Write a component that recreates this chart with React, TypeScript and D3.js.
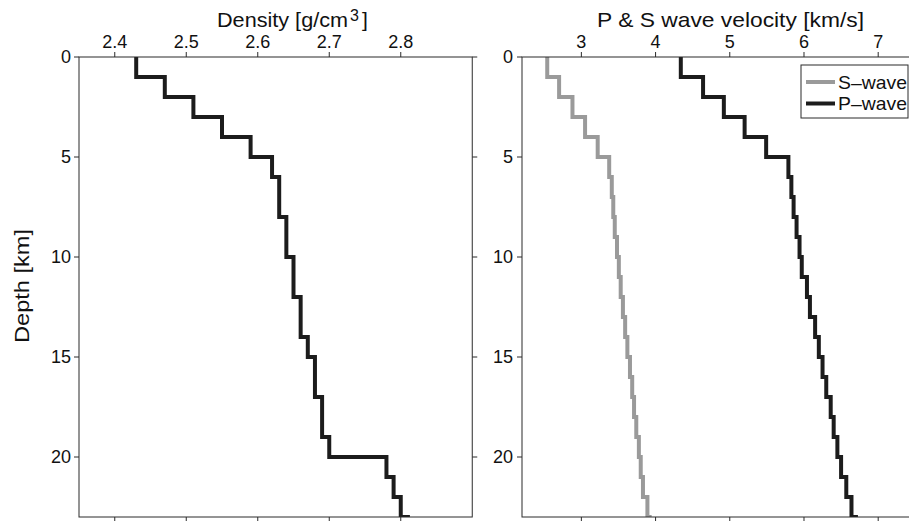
import React from "react";
import * as d3 from "d3";

const depthTop = [0, 1, 2, 3, 4, 5, 6, 7, 8, 9, 10, 11, 12, 13, 14, 15, 16, 17, 18, 19, 20, 21, 22, 23];
const density = [2.43, 2.47, 2.51, 2.55, 2.59, 2.62, 2.63, 2.63, 2.64, 2.64, 2.65, 2.65, 2.66, 2.66, 2.67, 2.68, 2.68, 2.69, 2.69, 2.70, 2.78, 2.79, 2.80, 2.81];
const sWave = [2.54, 2.70, 2.88, 3.05, 3.22, 3.375, 3.41, 3.43, 3.45, 3.48, 3.505, 3.53, 3.56, 3.59, 3.62, 3.655, 3.685, 3.71, 3.74, 3.775, 3.80, 3.83, 3.89, 3.92];
const pWave = [4.34, 4.64, 4.92, 5.20, 5.49, 5.79, 5.83, 5.86, 5.90, 5.94, 5.97, 6.04, 6.08, 6.15, 6.20, 6.25, 6.30, 6.36, 6.40, 6.45, 6.50, 6.57, 6.64, 6.70];
const densityTicks = [2.4, 2.5, 2.6, 2.7, 2.8];
const velocityTicks = [3, 4, 5, 6, 7];
const depthTicks = [0, 5, 10, 15, 20];

const FONT = "'Liberation Sans', Arial, Helvetica, sans-serif";
const AX = "#2b2b2b";
const TOP = 57;
const BOTTOM = 517;

const yScale = d3.scaleLinear().domain([0, 23]).range([TOP, BOTTOM]);

function stepPath(values: number[], x: d3.ScaleLinear<number, number>) {
  const pts: [number, number][] = values.map((v, i) => [v, depthTop[i]]);
  pts.push([values[values.length - 1], depthTop[depthTop.length - 1] + 1]);
  const line = d3
    .line<[number, number]>()
    .x((d) => x(d[0]))
    .y((d) => yScale(d[1]))
    .curve(d3.curveStepBefore);
  return line(pts) || "";
}

function Panel(props: {
  id: string;
  x: d3.ScaleLinear<number, number>;
  ticks: number[];
  fmt: (v: number) => string;
  labelX: number;
  series: { values: number[]; color: string }[];
}) {
  const { id, x, ticks, fmt, labelX, series } = props;
  const [x0, x1] = x.range();
  return (
    <g>
      <defs>
        <clipPath id={id}>
          <rect x={x0} y={TOP} width={x1 - x0} height={BOTTOM - TOP} />
        </clipPath>
      </defs>
      <g clipPath={`url(#${id})`}>
        {series.map((s, i) => (
          <path
            key={i}
            d={stepPath(s.values, x)}
            fill="none"
            stroke={s.color}
            strokeWidth={4}
            strokeLinejoin="miter"
            strokeLinecap="butt"
          />
        ))}
      </g>
      <rect x={x0} y={TOP} width={x1 - x0} height={BOTTOM - TOP} fill="none" stroke={AX} strokeWidth={1} />
      {ticks.map((t) => (
        <g key={"xt" + t}>
          <line x1={x(t)} x2={x(t)} y1={TOP} y2={TOP - 5} stroke={AX} />
          <line x1={x(t)} x2={x(t)} y1={BOTTOM} y2={BOTTOM + 5} stroke={AX} />
          <text x={x(t)} y={48} textAnchor="middle" fontSize={18} fontFamily={FONT} fill="#111">
            {fmt(t)}
          </text>
        </g>
      ))}
      {depthTicks.map((t) => (
        <g key={"yt" + t}>
          <line x1={x0} x2={x0 - 5} y1={yScale(t)} y2={yScale(t)} stroke={AX} />
          <line x1={x1} x2={x1 + 5} y1={yScale(t)} y2={yScale(t)} stroke={AX} />
          <text x={labelX} y={yScale(t)} dy="0.36em" textAnchor="end" fontSize={18} fontFamily={FONT} fill="#111">
            {t}
          </text>
        </g>
      ))}
    </g>
  );
}

export default function App() {
  const xDen = d3.scaleLinear().domain([2.35, 2.9]).range([79, 472.25]);
  const xVel = d3.scaleLinear().domain([2.2, 7.5]).range([522, 915.3]);
  return (
    <svg width={909} height={521} style={{ position: "absolute", left: 0, top: 0, background: "#fff" }}>
      <rect x={0} y={0} width={909} height={521} fill="#fff" />
      <Panel
        id="clipDen"
        x={xDen}
        ticks={densityTicks}
        fmt={(v) => v.toFixed(1)}
        labelX={71}
        series={[{ values: density, color: "#1c1c1c" }]}
      />
      <Panel
        id="clipVel"
        x={xVel}
        ticks={velocityTicks}
        fmt={(v) => String(v)}
        labelX={513}
        series={[
          { values: sWave, color: "#9a9a9a" },
          { values: pWave, color: "#1c1c1c" },
        ]}
      />
      <text x={217} y={27} fontSize={21} fontFamily={FONT} fill="#111" textLength={131} lengthAdjust="spacingAndGlyphs">
        Density [g/cm
      </text>
      <text x={350} y={21} fontSize={16} fontFamily={FONT} fill="#111">
        3
      </text>
      <text x={362} y={27} fontSize={21} fontFamily={FONT} fill="#111">
        ]
      </text>
      <text x={597} y={27} fontSize={21} fontFamily={FONT} fill="#111" textLength={267} lengthAdjust="spacingAndGlyphs">
        P &amp; S wave velocity [km/s]
      </text>
      <text
        transform="translate(29,286) rotate(-90)"
        textAnchor="middle"
        fontSize={20}
        fontFamily={FONT}
        fill="#111"
        textLength={114}
        lengthAdjust="spacingAndGlyphs"
      >
        Depth [km]
      </text>
      <g>
        <rect x={801} y={65} width={107} height={53} fill="#fff" stroke={AX} strokeWidth={1} />
        <line x1={806} x2={835} y1={82} y2={82} stroke="#9a9a9a" strokeWidth={4} />
        <line x1={806} x2={835} y1={103.5} y2={103.5} stroke="#1c1c1c" strokeWidth={4} />
        <text x={838} y={88.5} fontSize={19} fontFamily={FONT} fill="#111" textLength={69} lengthAdjust="spacingAndGlyphs">
          S–wave
        </text>
        <text x={838} y={110} fontSize={19} fontFamily={FONT} fill="#111" textLength={69} lengthAdjust="spacingAndGlyphs">
          P–wave
        </text>
      </g>
    </svg>
  );
}
